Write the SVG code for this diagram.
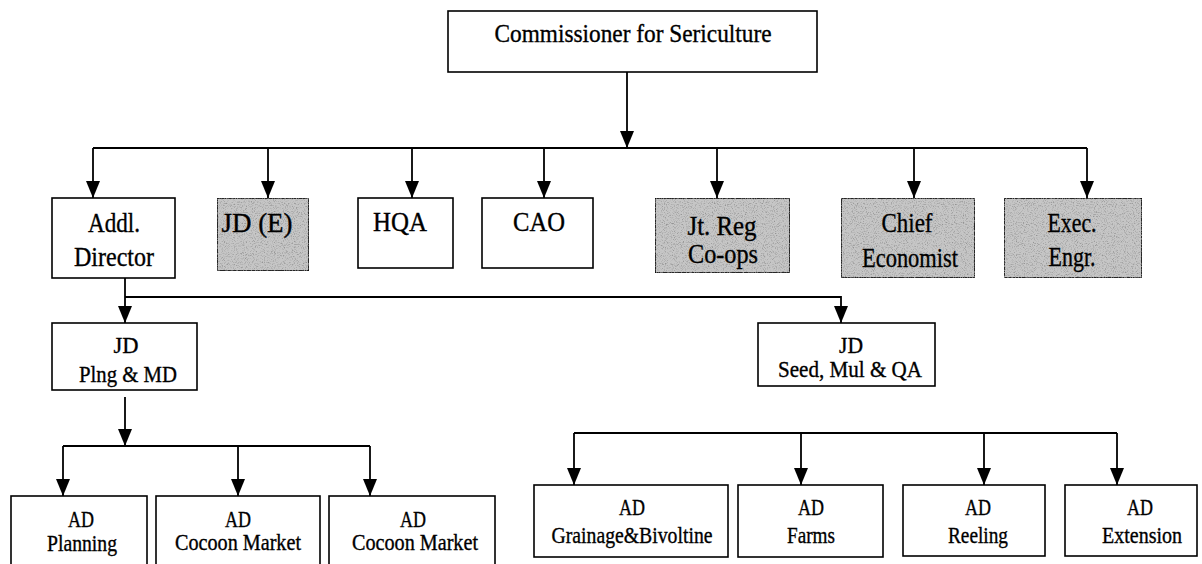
<svg xmlns="http://www.w3.org/2000/svg" width="1202" height="564" viewBox="0 0 1202 564">
  <style>
    .box { fill: #ffffff; stroke: #000000; stroke-width: 1.6; }
    .shaded { fill: #c6c6c6; stroke: #000000; stroke-width: 1.6; filter: url(#stipple); }
    .lbl { fill: #000000; stroke: #000000; stroke-width: 0.35; text-anchor: middle; }
    .wire { fill: none; stroke: #000000; stroke-width: 1.8; }
    .arr { fill: none; stroke: #000000; stroke-width: 1.8; marker-end: url(#head); }
  </style>
  <defs>
    <marker id="head" markerUnits="userSpaceOnUse" viewBox="0 -7 17 14" markerWidth="17" markerHeight="14" refX="17" refY="0" orient="auto">
      <path d="M0,-7 L17,0 L0,7 Z" fill="#000000"/>
    </marker>
    <!-- grainy grey screen used for the shaded offices -->
    <filter id="stipple" x="0" y="0" width="100%" height="100%">
      <feTurbulence type="fractalNoise" baseFrequency="0.9" numOctaves="2" seed="7" result="noise"/>
      <feColorMatrix in="noise" type="matrix" values="0 0 0 0 0.3  0 0 0 0 0.3  0 0 0 0 0.3  3 0 0 0 -1.45" result="dots"/>
      <feComposite in="dots" in2="SourceGraphic" operator="in" result="speck"/>
      <feMerge>
        <feMergeNode in="SourceGraphic"/>
        <feMergeNode in="speck"/>
      </feMerge>
    </filter>
  </defs>

  <rect width="1202" height="564" fill="#ffffff"/>

  <g id="connectors">
    <path class="arr" d="M627,72 V148"/>
    <path class="wire" d="M93,148 H1087"/>
    <path class="arr" d="M93,148 V198"/>
    <path class="arr" d="M268,148 V198"/>
    <path class="arr" d="M412,148 V198"/>
    <path class="arr" d="M544,148 V198"/>
    <path class="arr" d="M717,148 V198"/>
    <path class="arr" d="M914,148 V198"/>
    <path class="arr" d="M1087,148 V198"/>

    <path class="arr" d="M125,278 V323"/>
    <path class="arr" d="M125,297 H841 V323"/>

    <path class="arr" d="M125,397 V446"/>
    <path class="wire" d="M63,446 H370"/>
    <path class="arr" d="M63,446 V496"/>
    <path class="arr" d="M238,446 V496"/>
    <path class="arr" d="M370,446 V496"/>

    <path class="wire" d="M574,433 H1117"/>
    <path class="arr" d="M574,433 V485"/>
    <path class="arr" d="M801,433 V485"/>
    <path class="arr" d="M984,433 V485"/>
    <path class="arr" d="M1117,433 V485"/>
  </g>

  <g font-family="'Liberation Serif', 'Times New Roman', 'DejaVu Serif', serif">
  <g id="commissioner" font-size="25">
    <rect class="box" x="448" y="11" width="369" height="61"/>
    <text class="lbl" x="633" y="42" textLength="277" lengthAdjust="spacingAndGlyphs">Commissioner for Sericulture</text>
  </g>

  <g id="addl-director" font-size="27">
    <rect class="box" x="52" y="198" width="123" height="80"/>
    <text class="lbl" x="114" y="232" textLength="52" lengthAdjust="spacingAndGlyphs">Addl.</text>
    <text class="lbl" x="114" y="266" textLength="80" lengthAdjust="spacingAndGlyphs">Director</text>
  </g>

  <g id="jd-e" font-size="27">
    <rect class="shaded" x="217" y="198" width="92" height="73"/>
    <text class="lbl" x="257" y="232" textLength="71" lengthAdjust="spacingAndGlyphs">JD (E)</text>
  </g>

  <g id="hqa" font-size="27">
    <rect class="box" x="358" y="198" width="95" height="70"/>
    <text class="lbl" x="400" y="231" textLength="54" lengthAdjust="spacingAndGlyphs">HQA</text>
  </g>

  <g id="cao" font-size="27">
    <rect class="box" x="482" y="198" width="111" height="70"/>
    <text class="lbl" x="539" y="231" textLength="52" lengthAdjust="spacingAndGlyphs">CAO</text>
  </g>

  <g id="jt-reg" font-size="27">
    <rect class="shaded" x="655" y="198" width="135" height="75"/>
    <text class="lbl" x="722" y="235" textLength="69" lengthAdjust="spacingAndGlyphs">Jt. Reg</text>
    <text class="lbl" x="723" y="263" textLength="70" lengthAdjust="spacingAndGlyphs">Co-ops</text>
  </g>

  <g id="chief-economist" font-size="27">
    <rect class="shaded" x="841" y="198" width="134" height="80"/>
    <text class="lbl" x="907" y="232" textLength="51" lengthAdjust="spacingAndGlyphs">Chief</text>
    <text class="lbl" x="910" y="267" textLength="96" lengthAdjust="spacingAndGlyphs">Economist</text>
  </g>

  <g id="exec-engr" font-size="27">
    <rect class="shaded" x="1004" y="198" width="138" height="80"/>
    <text class="lbl" x="1072" y="232" textLength="49" lengthAdjust="spacingAndGlyphs">Exec.</text>
    <text class="lbl" x="1072" y="266" textLength="47" lengthAdjust="spacingAndGlyphs">Engr.</text>
  </g>

  <g id="jd-plng" font-size="24">
    <rect class="box" x="52" y="323" width="145" height="67"/>
    <text class="lbl" x="126" y="353" textLength="25" lengthAdjust="spacingAndGlyphs">JD</text>
    <text class="lbl" x="128" y="382" textLength="98" lengthAdjust="spacingAndGlyphs">Plng &amp; MD</text>
  </g>

  <g id="jd-seed" font-size="24">
    <rect class="box" x="758" y="323" width="177" height="63"/>
    <text class="lbl" x="851" y="353" textLength="24" lengthAdjust="spacingAndGlyphs">JD</text>
    <text class="lbl" x="850" y="377" textLength="144" lengthAdjust="spacingAndGlyphs">Seed, Mul &amp; QA</text>
  </g>

  <g id="ad-planning" font-size="23">
    <rect class="box" x="11" y="496" width="136" height="80"/>
    <text class="lbl" x="81" y="527" textLength="26" lengthAdjust="spacingAndGlyphs">AD</text>
    <text class="lbl" x="82" y="551" textLength="70" lengthAdjust="spacingAndGlyphs">Planning</text>
  </g>

  <g id="ad-cocoon-market-1" font-size="23">
    <rect class="box" x="156" y="496" width="164" height="80"/>
    <text class="lbl" x="238" y="527" textLength="26" lengthAdjust="spacingAndGlyphs">AD</text>
    <text class="lbl" x="238" y="550" textLength="126" lengthAdjust="spacingAndGlyphs">Cocoon Market</text>
  </g>

  <g id="ad-cocoon-market-2" font-size="23">
    <rect class="box" x="329" y="496" width="166" height="80"/>
    <text class="lbl" x="413" y="527" textLength="26" lengthAdjust="spacingAndGlyphs">AD</text>
    <text class="lbl" x="415" y="550" textLength="126" lengthAdjust="spacingAndGlyphs">Cocoon Market</text>
  </g>

  <g id="ad-grainage" font-size="23">
    <rect class="box" x="534" y="485" width="194" height="72"/>
    <text class="lbl" x="632" y="515" textLength="26" lengthAdjust="spacingAndGlyphs">AD</text>
    <text class="lbl" x="632" y="543" textLength="161" lengthAdjust="spacingAndGlyphs">Grainage&amp;Bivoltine</text>
  </g>

  <g id="ad-farms" font-size="23">
    <rect class="box" x="738" y="485" width="145" height="72"/>
    <text class="lbl" x="811" y="515" textLength="26" lengthAdjust="spacingAndGlyphs">AD</text>
    <text class="lbl" x="811" y="543" textLength="48" lengthAdjust="spacingAndGlyphs">Farms</text>
  </g>

  <g id="ad-reeling" font-size="23">
    <rect class="box" x="903" y="485" width="142" height="71"/>
    <text class="lbl" x="978" y="515" textLength="26" lengthAdjust="spacingAndGlyphs">AD</text>
    <text class="lbl" x="978" y="543" textLength="60" lengthAdjust="spacingAndGlyphs">Reeling</text>
  </g>

  <g id="ad-extension" font-size="23">
    <rect class="box" x="1065" y="485" width="132" height="71"/>
    <text class="lbl" x="1140" y="515" textLength="26" lengthAdjust="spacingAndGlyphs">AD</text>
    <text class="lbl" x="1142" y="543" textLength="80" lengthAdjust="spacingAndGlyphs">Extension</text>
  </g>
  </g>
</svg>
